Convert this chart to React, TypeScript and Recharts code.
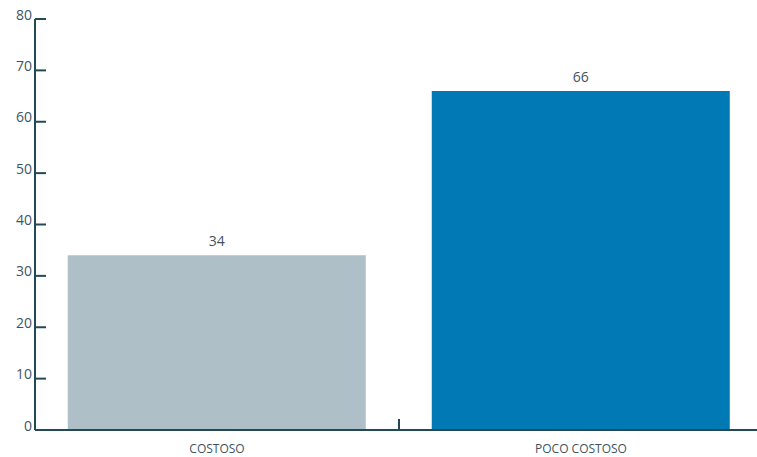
import { BarChart, Bar, XAxis, YAxis, LabelList, ReferenceLine } from 'recharts';

const categories = ['COSTOSO', 'POCO COSTOSO'];
const values = [34, 66];
const barColors = ['#aebfc7', '#0079b4'];
const yTicks = [0, 10, 20, 30, 40, 50, 60, 70, 80];

const AXIS = '#234856';
const TEXT = '#3d5563';
const FONT = '"Open Sans", Lato, sans-serif';

const data = categories.map((name, i) => ({ name, value: values[i], fill: barColors[i] }));

const YTick = (props: any) => {
  const { x, y, payload } = props;
  return (
    <g>
      <line x1={x} x2={x + 11} y1={y} y2={y} stroke={AXIS} strokeWidth={2} />
      <text x={x - 3} y={y - 5} textAnchor="end" dominantBaseline="central" fill={TEXT} fontSize={14} fontFamily={FONT}>
        {payload.value}
      </text>
    </g>
  );
};

const XTick = (props: any) => {
  const { x, y, payload } = props;
  return (
    <text x={x} y={y + 10} textAnchor="middle" dominantBaseline="central" fill={TEXT} fontSize={12} fontFamily={FONT}>
      {payload.value}
    </text>
  );
};

export default function App() {
  return (
    <div style={{ position: 'absolute', left: 0, top: 0, width: 757, height: 457, overflow: 'hidden', background: '#fff' }}>
      <BarChart
        width={763}
        height={457}
        data={data}
        margin={{ top: 19, right: 0, bottom: 0, left: 0 }}
        barCategoryGap="9%"
      >
        <XAxis
          dataKey="name"
          height={27}
          tickLine={false}
          axisLine={{ stroke: AXIS, strokeWidth: 2 }}
          tick={<XTick />}
          interval={0}
        />
        <YAxis
          width={35}
          domain={[0, 80]}
          ticks={yTicks}
          tickSize={0}
          tickMargin={0}
          tickLine={false}
          axisLine={{ stroke: AXIS, strokeWidth: 2 }}
          tick={<YTick />}
          interval={0}
        />
        <ReferenceLine
          segment={[{ x: 'COSTOSO', y: 0 }, { x: 'COSTOSO', y: 2.15 }]}
          position="end"
          stroke={AXIS}
          strokeWidth={2}
          ifOverflow="visible"
        />
        <Bar dataKey="value" isAnimationActive={false}>
          <LabelList dataKey="value" position="top" offset={9} fill={TEXT} fontSize={14} fontFamily={FONT} />
        </Bar>
      </BarChart>
    </div>
  );
}
